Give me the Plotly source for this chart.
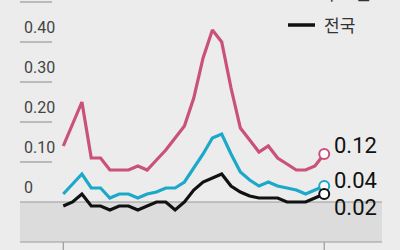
import plotly.graph_objects as go

weeks = list(range(29))
capital = [0.14, 0.195, 0.25, 0.11, 0.11, 0.08, 0.08, 0.08, 0.09, 0.08, 0.105, 0.13, 0.16, 0.19,
           0.26, 0.36, 0.43, 0.40, 0.285, 0.185, 0.155, 0.125, 0.14, 0.11, 0.095, 0.08, 0.08, 0.09, 0.12]
cyan_series = [0.02, 0.045, 0.07, 0.035, 0.035, 0.01, 0.02, 0.02, 0.01, 0.02, 0.025, 0.035, 0.035, 0.05,
               0.085, 0.12, 0.16, 0.17, 0.12, 0.075, 0.055, 0.04, 0.05, 0.04, 0.035, 0.03, 0.02, 0.03, 0.04]
national = [-0.01, 0.0, 0.02, -0.01, -0.01, -0.02, -0.01, -0.01, -0.02, -0.01, 0.0, 0.0, -0.02, 0.0,
            0.03, 0.05, 0.06, 0.07, 0.04, 0.025, 0.015, 0.01, 0.01, 0.01, 0.0, 0.0, 0.0, 0.01, 0.02]
ytick_vals = [0.0, 0.10, 0.20, 0.30, 0.40, 0.50]
ytick_text = ["0", "0.10", "0.20", "0.30", "0.40", "0.50"]

PINK = "#c9517c"
CYAN = "#1ca9c9"
BLACK = "#111111"
BG = "#ececec"
SHADE = "#dcdcdc"
NARROW = "Liberation Sans Narrow, Roboto, Arial"

fig = go.Figure()
series = [(capital, PINK, 0.0225), (cyan_series, CYAN, 0.015), (national, BLACK, -0.0325)]
for vals, col, off in series:
    fig.add_trace(go.Scatter(x=weeks, y=vals, mode="lines",
                             line=dict(color=col, width=3.2), hoverinfo="skip"))
for vals, col, off in series:
    fig.add_trace(go.Scatter(x=[weeks[-1]], y=[vals[-1]], mode="markers",
                             marker=dict(color="white", size=10, line=dict(color=col, width=2)),
                             hoverinfo="skip"))

x0p, x1p = 20 / 400, 382 / 400
# shaded negative area
fig.add_shape(type="rect", xref="paper", yref="y", x0=x0p, x1=x1p, y0=-0.10, y1=0,
              fillcolor=SHADE, line_width=0, layer="below")
fig.add_shape(type="line", xref="paper", yref="y", x0=x0p, x1=x1p, y0=0, y1=0,
              line=dict(color="#9a9a9a", width=1.2), layer="below")
fig.add_shape(type="line", xref="paper", yref="y", x0=x0p, x1=x1p, y0=-0.10, y1=-0.10,
              line=dict(color="#9a9a9a", width=1.2), layer="below")
for xv in [weeks[0], weeks[-1]]:
    fig.add_shape(type="line", xref="x", yref="y", x0=xv, x1=xv, y0=-0.10, y1=-0.13,
                  line=dict(color="#9a9a9a", width=1.2))

for v, t in zip(ytick_vals, ytick_text):
    if v > 0:
        fig.add_shape(type="line", xref="paper", yref="y", x0=x0p, x1=52 / 400, y0=v, y1=v,
                      line=dict(color="#9a9a9a", width=1.2))
    fig.add_annotation(xref="paper", yref="y", x=22 / 400, y=v + 0.0375, text=t, showarrow=False,
                       xanchor="left", yanchor="middle",
                       font=dict(family=NARROW, size=16, color="#444"))

for vals, col, off in series:
    fig.add_annotation(xref="paper", yref="y", x=332 / 400, y=vals[-1] + off, text=f"{vals[-1]:.2f}",
                       showarrow=False, xanchor="left", yanchor="middle",
                       font=dict(family=NARROW, size=22, color="#111"))

# legend (top right)
fig.add_shape(type="line", xref="paper", yref="paper", x0=288 / 400, x1=315 / 400,
              y0=1 - 25 / 250, y1=1 - 25 / 250, line=dict(color=BLACK, width=3.5))
fig.add_annotation(xref="paper", yref="paper", x=322 / 400, y=1 - 25 / 250, text="전국",
                   showarrow=False, xanchor="left", yanchor="middle",
                   font=dict(family="Noto Sans CJK KR", size=17, color="#333"))
fig.add_annotation(xref="paper", yref="paper", x=322 / 400, y=1 + 7 / 250, text="수도권",
                   showarrow=False, xanchor="left", yanchor="middle",
                   font=dict(family="Noto Sans CJK KR", size=17, color="#333"))

fig.update_layout(width=400, height=250, margin=dict(l=0, r=0, t=0, b=0),
                  paper_bgcolor=BG, plot_bgcolor=BG, showlegend=False,
                  xaxis=dict(range=[-6.79, 36.13], visible=False, fixedrange=True),
                  yaxis=dict(range=[-0.12, 0.505], visible=False, fixedrange=True))
fig.write_html("out.html", config={"displayModeBar": False})
